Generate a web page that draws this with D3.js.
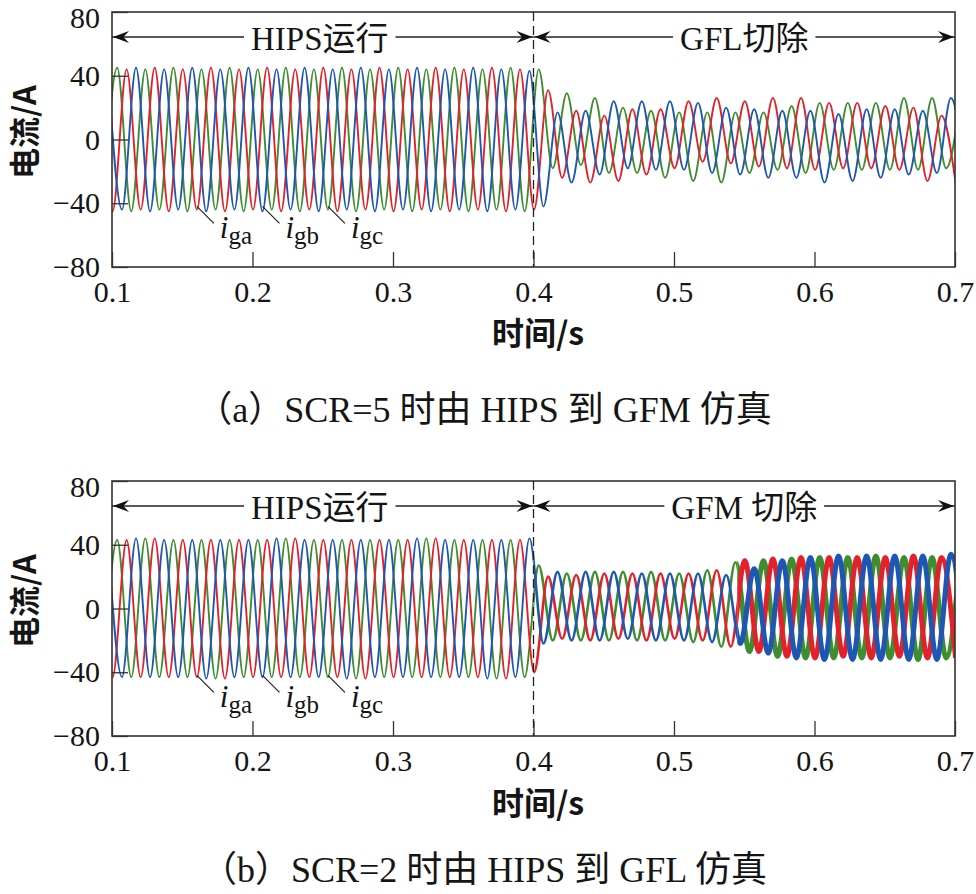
<!DOCTYPE html>
<html lang="zh">
<head>
<meta charset="UTF-8">
<title>HIPS 三相电流仿真</title>
<script src="https://d3js.org/d3.v7.min.js"></script>
<style>
  body { margin: 0; background: #fff; }
  svg text { fill: #151515; }
</style>
</head>
<body>
<script>
// axes
var timeTicks = [0.1, 0.2, 0.3, 0.4, 0.5, 0.6, 0.7];
var currentTicks = [-80, -40, 0, 40, 80];
var switchTime = 0.4;

// one peak or trough every half cycle (50 Hz -> 10 ms), values in A
var halfCycle = 0.01;
var firstExtremum = { a: 0.0904, b: 0.0971, c: 0.0937 };

// (a) SCR=5
var scr5_iga = [
  44, -45, 44, -44, 45, -45, 44, -44, 45, -45,
  44, -44, 45, -45, 44, -44, 45, -45, 44, -44,
  45, -45, 44, -44, 45, -45, 44, -44, 45, -45,
  44, -44, 31, -24, 18, -27, 15, -26, 19, -22,
  19, -18, 24, -14, 26, -15, 24, -17, 26, -18,
  26, -19, 23, -18, 23, -18, 21, -19, 20, -26,
  15, -27
];
var scr5_igb = [
  44, -44, 45, -45, 44, -44, 45, -45, 44, -44,
  45, -45, 44, -44, 45, -45, 44, -44, 45, -45,
  44, -44, 45, -45, 44, -44, 45, -45, 44, -44,
  43, -42, 17, -27, 18, -22, 24, -18, 24, -19,
  24, -19, 23, -21, 20, -22, 19, -24, 18, -24,
  18, -27, 16, -26, 19, -24, 19, -22, 18, -21,
  26, -20
];
var scr5_igc = [
  -44, 45, -45, 44, -44, 45, -45, 44, -44, 45,
  -45, 44, -44, 45, -45, 44, -44, 45, -45, 44,
  -44, 45, -45, 44, -44, 45, -45, 44, -44, 45,
  -45, 44, -18, 29, -16, 26, -21, 20, -21, 18,
  -24, 17, -26, 17, -27, 17, -21, 17, -19, 21,
  -21, 23, -19, 23, -19, 23, -19, 26, -19, 26,
  -18, 24
];

// (b) SCR=2
var scr2_iga = [
  43, -43, 43, -43, 44, -43, 43, -43, 43, -44,
  43, -43, 43, -43, 44, -43, 43, -43, 43, -44,
  43, -43, 43, -43, 44, -43, 43, -43, 43, -44,
  43, -40, 20, -19, 21, -20, 22, -19, 22, -20,
  22, -19, 22, -20, 24, -24, 30, -27, 31, -30,
  32, -31, 32, -30, 32, -31, 32, -30, 33, -31,
  32, -31
];
var scr2_igb = [
  43, -43, 44, -43, 43, -43, 43, -44, 43, -43,
  43, -43, 44, -43, 43, -43, 43, -44, 43, -43,
  43, -43, 44, -43, 43, -43, 43, -44, 43, -43,
  44, -22, 23, -20, 23, -20, 23, -19, 22, -20,
  22, -20, 22, -21, 21, -22, 25, -28, 30, -31,
  32, -32, 33, -32, 33, -32, 33, -32, 33, -32,
  34, -32
];
var scr2_igc = [
  -43, 43, -43, 44, -43, 43, -43, 43, -44, 43,
  -43, 43, -43, 44, -43, 43, -43, 43, -44, 43,
  -43, 43, -43, 44, -43, 43, -43, 43, -44, 43,
  -43, 27, -20, 22, -20, 23, -20, 23, -20, 23,
  -20, 22, -21, 24, -24, 29, -27, 30, -30, 31,
  -31, 32, -31, 32, -31, 33, -31, 32, -32, 32,
  -31, 32
];

var phaseNames = ["ga", "gb", "gc"];
var phaseColors = { a: "#e1222b", b: "#1f56b3", c: "#3e8d2f" };
// trough each label points at
var labelTimes = [0.1604, 0.2071, 0.2537];

var W = 976, H = 894;
var plotLeft = 112, plotRight = 955, plotH = 255;
var serif = "Liberation Serif, Times New Roman, Noto Sans CJK SC, serif";
var cjk = "Noto Sans CJK SC, Liberation Serif, serif";

var svg = d3.select("body").append("svg")
    .attr("width", W)
    .attr("height", H)
    .style("background", "#fff");

var x = d3.scaleLinear().domain([0.1, 0.7]).range([plotLeft, plotRight]);

var panels = [
  { id: "a", top: 12, data: { a: scr5_iga, b: scr5_igb, c: scr5_igc },
    leftNote: "HIPS运行", rightNote: "GFL切除",
    titleY: 345, caption: "（a）SCR=5 时由 HIPS 到 GFM 仿真", captionY: 422,
    widths: [[0.1, 0.7, 1.9]] },
  { id: "b", top: 481, data: { a: scr2_iga, b: scr2_igb, c: scr2_igc },
    leftNote: "HIPS运行", rightNote: "GFM 切除",
    titleY: 815, caption: "（b）SCR=2 时由 HIPS 到 GFL 仿真", captionY: 882,
    widths: [[0.1, 0.4, 1.9], [0.4, 0.545, 2.6], [0.545, 0.7, 5]] }
];

function arrowHead(px, py, dir) {
  // dir = -1 points left, +1 points right
  var l = 16 * -dir, w = 6;
  return "M" + px + "," + py + "L" + (px + l) + "," + (py - w) +
         "L" + (px + l * 0.65) + "," + py + "L" + (px + l) + "," + (py + w) + "Z";
}

panels.forEach(function(p) {
  var y = d3.scaleLinear().domain([-80, 80]).range([p.top + plotH, p.top]);
  var g = svg.append("g");

  // clip regions for the different line widths
  p.widths.forEach(function(seg, i) {
    svg.append("clipPath").attr("id", "clip-" + p.id + i)
      .append("rect")
      .attr("x", x(seg[0]))
      .attr("y", p.top)
      .attr("width", x(seg[1]) - x(seg[0]))
      .attr("height", plotH);
  });

  var line = d3.line()
      .x(function(d) { return x(d[0]); })
      .y(function(d) { return y(d[1]); })
      .curve(d3.curveMonotoneX);

  p.widths.forEach(function(seg, i) {
    ["c", "a", "b"].forEach(function(ph) {
      var pts = p.data[ph].map(function(v, k) {
        return [firstExtremum[ph] + k * halfCycle, v];
      });
      g.append("path")
        .datum(pts)
        .attr("clip-path", "url(#clip-" + p.id + i + ")")
        .attr("d", line)
        .attr("fill", "none")
        .attr("stroke", phaseColors[ph])
        .attr("stroke-width", seg[2])
        .attr("stroke-linejoin", "round");
    });
  });

  // axes with inward ticks
  var xAxis = d3.axisBottom(x).tickValues(timeTicks)
      .tickFormat(d3.format(".1f"))
      .tickSizeInner(-15).tickSizeOuter(0).tickPadding(14);
  var yAxis = d3.axisLeft(y).tickValues(currentTicks)
      .tickSizeInner(-16).tickSizeOuter(0).tickPadding(12);

  var gx = g.append("g").attr("transform", "translate(0," + (p.top + plotH) + ")").call(xAxis);
  var gy = g.append("g").attr("transform", "translate(" + plotLeft + ",0)").call(yAxis);
  [gx, gy].forEach(function(ax) {
    ax.attr("font-family", serif);
    ax.select(".domain").remove();
    ax.selectAll("line").attr("stroke", "#333").attr("stroke-width", 1.3);
    ax.selectAll("text")
      .attr("font-family", serif)
      .attr("font-size", 30)
      .attr("fill", "#151515");
  });
  // top label sits a little lower so it stays inside the picture
  gy.selectAll(".tick text").filter(function(d) { return d === 80; }).attr("dy", "0.5em");

  // frame
  g.append("rect")
    .attr("x", plotLeft)
    .attr("y", p.top)
    .attr("width", plotRight - plotLeft)
    .attr("height", plotH)
    .attr("fill", "none")
    .attr("stroke", "#333")
    .attr("stroke-width", 1.6);

  // switching instant
  g.append("line")
    .attr("x1", x(switchTime)).attr("x2", x(switchTime))
    .attr("y1", p.top).attr("y2", p.top + plotH)
    .attr("stroke", "#222")
    .attr("stroke-width", 1.3)
    .attr("stroke-dasharray", "9,5");

  // interval notes with arrows
  var ay = p.top + 25;
  var notes = [
    { text: p.leftNote, from: x(0.1), to: x(switchTime), shift: -3 },
    { text: p.rightNote, from: x(switchTime), to: x(0.7), shift: 0 }
  ];
  notes.forEach(function(n) {
    var t = g.append("text")
      .attr("x", (n.from + n.to) / 2 + n.shift)
      .attr("y", ay + 13)
      .attr("text-anchor", "middle")
      .attr("font-family", serif)
      .attr("font-size", 33)
      .text(n.text);
    var bb = t.node().getBBox();
    g.append("line")
      .attr("x1", n.from).attr("x2", bb.x - 7)
      .attr("y1", ay).attr("y2", ay)
      .attr("stroke", "#222").attr("stroke-width", 1.3);
    g.append("line")
      .attr("x1", bb.x + bb.width + 7).attr("x2", n.to)
      .attr("y1", ay).attr("y2", ay)
      .attr("stroke", "#222").attr("stroke-width", 1.3);
    g.append("path").attr("d", arrowHead(n.from + 1, ay, -1)).attr("fill", "#111");
    g.append("path").attr("d", arrowHead(n.to - 1, ay, 1)).attr("fill", "#111");
  });

  // phase labels
  labelTimes.forEach(function(lt, i) {
    var lx = x(lt), ly = y(-42);
    g.append("line")
      .attr("x1", lx).attr("y1", ly)
      .attr("x2", lx + 17).attr("y2", ly + 17)
      .attr("stroke", "#222").attr("stroke-width", 1.2);
    var t = g.append("text")
      .attr("x", lx + 23)
      .attr("y", ly + 32)
      .attr("font-family", serif)
      .attr("font-size", 31);
    t.append("tspan").attr("font-style", "italic").text("i");
    t.append("tspan").attr("font-size", 25).attr("dy", 6).text(phaseNames[i]);
  });

  // axis titles
  g.append("text")
    .attr("transform", "translate(36," + (p.top + 120) + ") rotate(-90)")
    .attr("text-anchor", "middle")
    .attr("font-family", cjk)
    .attr("font-size", 31)
    .attr("font-weight", "bold")
    .text("电流/A");

  g.append("text")
    .attr("x", 538)
    .attr("y", p.titleY)
    .attr("text-anchor", "middle")
    .attr("font-family", cjk)
    .attr("font-size", 32)
    .attr("font-weight", "bold")
    .text("时间/s");

  g.append("text")
    .attr("x", 484)
    .attr("y", p.captionY)
    .attr("text-anchor", "middle")
    .attr("font-family", serif)
    .attr("font-size", 36)
    .text(p.caption);
});
</script>
</body>
</html>
